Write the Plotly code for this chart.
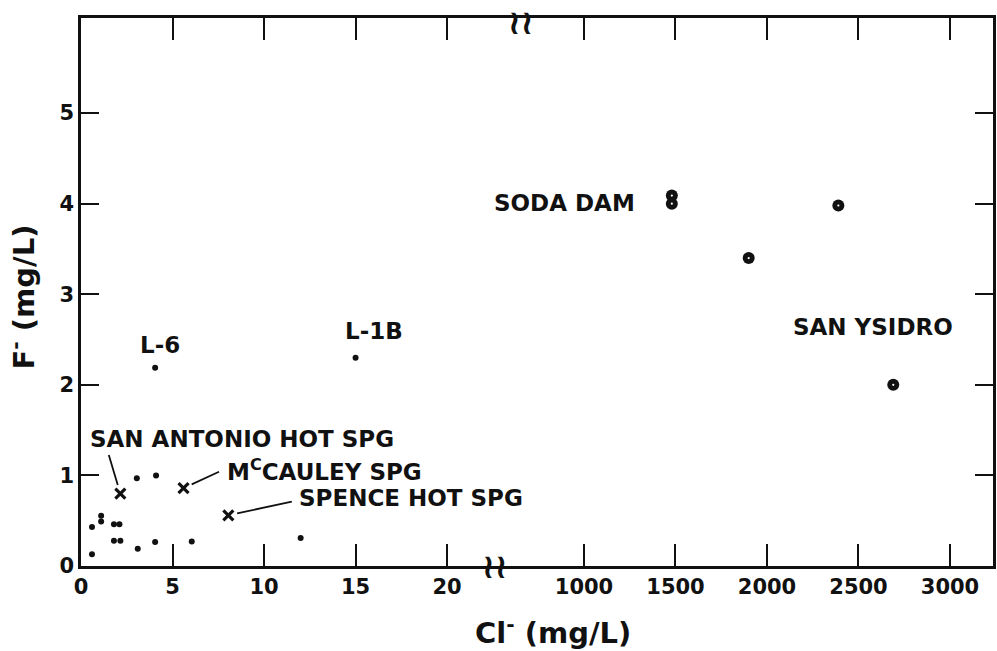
import plotly.graph_objects as go

# ---- data ----
# low-chloride samples, plain dots (left, broken-axis segment)
low_cl = [0.6, 1.1, 1.1, 1.8, 2.1, 1.8, 2.15, 0.6, 3.1, 4.05, 6.05, 12.0, 3.05, 4.1]
low_f = [0.43, 0.555, 0.49, 0.46, 0.46, 0.28, 0.28, 0.13, 0.19, 0.265, 0.27, 0.31, 0.97, 1.0]

# labelled wells (dots)
well_names = ["L-6", "L-1B"]
well_cl = [4.05, 15.0]
well_f = [2.19, 2.30]

# labelled springs (x marks)
spring_names = ["SAN ANTONIO HOT SPG", "M<sup>C</sup>CAULEY SPG", "SPENCE HOT SPG"]
spring_cl = [2.15, 5.6, 8.05]
spring_f = [0.80, 0.86, 0.56]

# high-chloride springs (right segment)
hi_cl = [1480, 1480, 1900, 2390, 2690]
hi_f = [4.09, 4.00, 3.40, 3.98, 2.00]
hi_group = ["SODA DAM", "SODA DAM", "SAN YSIDRO", "SAN YSIDRO", "SAN YSIDRO"]

left_ticks = [0, 5, 10, 15, 20]
right_ticks = [1000, 1500, 2000, 2500, 3000]
y_ticks = [0, 1, 2, 3, 4, 5]

FONT = "DejaVu Sans"
BLACK = "#111111"
split = 0.454

fig = go.Figure()

fig.add_trace(go.Scatter(x=low_cl, y=low_f, mode="markers", xaxis="x", yaxis="y",
                         marker=dict(size=6, color=BLACK), showlegend=False))
fig.add_trace(go.Scatter(x=well_cl, y=well_f, mode="markers", xaxis="x", yaxis="y",
                         marker=dict(size=6, color=BLACK), showlegend=False))
fig.add_trace(go.Scatter(x=spring_cl, y=spring_f, mode="markers", xaxis="x", yaxis="y",
                         marker=dict(size=10, symbol="x-thin-open", color=BLACK,
                                     line=dict(width=3.2, color=BLACK)),
                         showlegend=False))
fig.add_trace(go.Scatter(x=hi_cl, y=hi_f, mode="markers", xaxis="x2", yaxis="y2",
                         marker=dict(size=12, color=BLACK, line=dict(width=0)),
                         showlegend=False))
fig.add_trace(go.Scatter(x=hi_cl, y=hi_f, mode="markers", xaxis="x2", yaxis="y2",
                         marker=dict(size=2.2, color="white", line=dict(width=0)),
                         showlegend=False))

ann = []
lab_font = dict(family=FONT, size=23, color=BLACK, weight="bold")

# well labels
well_shift = [(5, 23), (18, 27)]
for n, xv, yv, (dx, dy) in zip(well_names, well_cl, well_f, well_shift):
    ann.append(dict(x=xv, y=yv, xref="x", yref="y", text=n, showarrow=False,
                    xshift=dx, yshift=dy, font=lab_font))

# spring labels + leader lines
spring_text = [(122, 55, "center"), (41, 18, "left"), (69, 17, "left")]
spring_lead = [(-12, -40), (37, -17), (65, -14)]
for n, xv, yv, (dx, dy, anc), (ax, ay) in zip(spring_names, spring_cl, spring_f,
                                                spring_text, spring_lead):
    ann.append(dict(x=xv, y=yv, xref="x", yref="y", text=n, showarrow=False,
                    xshift=dx, yshift=dy, xanchor=anc, font=lab_font))
    ann.append(dict(x=xv, y=yv, xref="x", yref="y", text="", showarrow=True,
                    arrowhead=0, arrowwidth=1.8, arrowcolor=BLACK, standoff=9,
                    ax=ax, ay=ay))

# group labels on the right segment
ann.append(dict(x=hi_cl[1], y=hi_f[1], xref="x2", yref="y2", text=hi_group[0],
                showarrow=False, xanchor="right", xshift=-35, yshift=1, font=lab_font))
ann.append(dict(x=hi_cl[4], y=hi_f[4], xref="x2", yref="y2", text=hi_group[4],
                showarrow=False, xshift=-20, yshift=58, font=lab_font))

# axis-break symbols
brk_font = dict(family=FONT, size=34, color=BLACK, weight="bold")
ann.append(dict(x=split, y=0, xref="paper", yref="paper", text="≀≀", showarrow=False,
                xanchor="center", yanchor="middle", font=brk_font, yshift=0))
ann.append(dict(x=split, y=1, xref="paper", yref="paper", text="≀≀", showarrow=False,
                xanchor="center", yanchor="middle", font=brk_font, xshift=26, yshift=-4))

# axis titles
ann.append(dict(x=0.518, y=0, xref="paper", yref="paper", yanchor="top", yshift=-44,
                text="Cl<sup>-</sup> (mg/L)", showarrow=False,
                font=dict(family=FONT, size=29, color=BLACK, weight="bold")))
ann.append(dict(x=0, y=0.49, xref="paper", yref="paper", xanchor="right", xshift=-38,
                yanchor="middle",
                text="F<sup>-</sup> (mg/L)", showarrow=False, textangle=-90,
                font=dict(family=FONT, size=29, color=BLACK, weight="bold")))

axis_common = dict(showgrid=False, zeroline=False, showline=True, linewidth=2.5,
                   linecolor=BLACK, ticks="inside", tickwidth=2.2, tickcolor=BLACK,
                   tickfont=dict(family=FONT, size=21, color=BLACK, weight="bold"))

fig.update_layout(
    width=997, height=651,
    margin=dict(l=81, r=4, t=18, b=85),
    paper_bgcolor="white", plot_bgcolor="white",
    showlegend=False,
    xaxis=dict(domain=[0, split], range=[0, 22.62], tickvals=left_ticks,
               ticklen=22, mirror="ticks", anchor="y", **axis_common),
    xaxis2=dict(domain=[split, 1], range=[514, 3235], tickvals=right_ticks,
                ticklen=22, mirror="ticks", anchor="y2", **axis_common),
    yaxis=dict(domain=[0, 1], range=[0, 6.05], tickvals=y_ticks, ticklen=18,
               anchor="x", **axis_common),
    yaxis2=dict(domain=[0, 1], range=[0, 6.05], tickvals=y_ticks[1:], ticklen=18,
                anchor="x2", side="right", matches="y", showticklabels=False,
                **axis_common),
    annotations=ann,
)

fig.write_html("out.html", config={"displayModeBar": False},
               post_script="document.body.style.margin='0';")
